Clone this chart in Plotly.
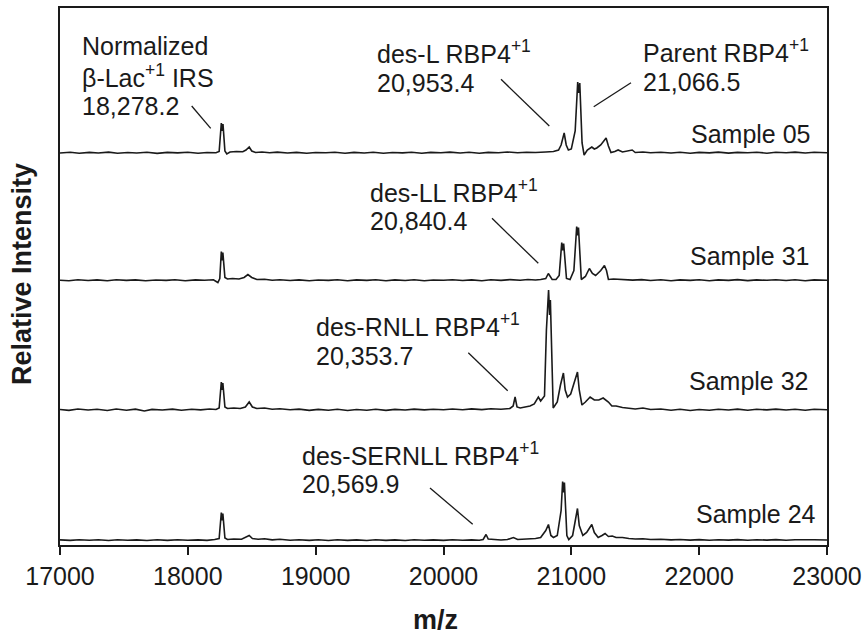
import plotly.graph_objects as go

# ---------------- data (m/z, relative intensity above each baseline) ----------------
sample_names = ["Sample 05", "Sample 31", "Sample 32", "Sample 24"]
stack_offsets = [387.5, 260.0, 130.5, 0.0]

sample05 = [
    (17000, 0), (17080, 0.8), (17150, -0.3), (17230, 0.6), (17300, 0), (17380, 0.9), (17450, -0.2),
    (17530, 0.5), (17600, 0), (17680, 0.7), (17760, -0.4), (17840, 0.6), (17920, 0.1), (18000, 0.8),
    (18080, -0.2), (18150, 0.5), (18220, 0.3), (18245, 1.5), (18262, 30), (18268, 22), (18275, 29),
    (18290, 2), (18305, -1), (18330, 1), (18380, 1.5), (18430, 1.2), (18455, 3), (18480, 6), (18500, 2),
    (18530, 0.5), (18580, 1), (18640, 0.2), (18700, 0.9), (18780, 0), (18850, 0.6), (18930, -0.3),
    (19000, 0.5), (19080, 0.2), (19150, 0.8), (19230, -0.2), (19300, 0.6), (19380, 0), (19450, 0.7),
    (19530, -0.3), (19600, 0.5), (19680, 0.1), (19750, 0.8), (19830, -0.2), (19900, 0.6), (19980, 0.2),
    (20050, 0.9), (20130, 0), (20200, 0.7), (20280, -0.2), (20350, 0.6), (20430, 0.3), (20500, 1),
    (20580, 0.2), (20650, 0.8), (20720, 0.5), (20800, 1), (20860, 1.5), (20900, 3), (20920, 8),
    (20944, 20), (20960, 8), (20977, 3), (21000, 4), (21030, 22), (21050, 71), (21058, 60), (21066, 70),
    (21084, 10), (21100, -2), (21125, 3), (21145, 5), (21160, 6), (21180, 4), (21199, 5), (21230, 8),
    (21272, 15), (21290, 7), (21310, 0.5), (21340, 1.5), (21366, 3), (21400, 1), (21440, 2), (21476, 3),
    (21500, 0.5), (21560, 1), (21620, 0.2), (21700, 0.8), (21780, 0), (21850, 0.7), (21930, -0.2),
    (22000, 0.6), (22080, 0.1), (22150, 0.9), (22230, -0.1), (22300, 0.6), (22380, 0.3), (22450, 0.8),
    (22530, -0.2), (22600, 0.7), (22680, 0.2), (22750, 0.9), (22830, 0), (22900, 0.7), (23000, 0.3),
]

sample31 = [
    (17000, 0.2), (17070, -0.3), (17140, 0.7), (17220, 0), (17290, 0.6), (17370, -0.2), (17440, 0.8),
    (17520, 0.1), (17590, 0.6), (17670, -0.3), (17750, 0.5), (17830, 0.1), (17900, 0.8), (17980, -0.2),
    (18060, 0.6), (18130, 0.2), (18200, 0.7), (18235, -2), (18250, 2), (18262, 29), (18268, 20),
    (18274, 28), (18290, 3), (18310, 1.5), (18350, 2), (18400, 1.5), (18440, 3), (18470, 6), (18500, 3),
    (18540, 1), (18600, 1.2), (18660, 0.3), (18720, 0.8), (18800, 0), (18870, 0.6), (18950, -0.3),
    (19020, 0.5), (19100, 0.1), (19170, 0.8), (19250, -0.2), (19320, 0.6), (19400, 0.1), (19470, 0.7),
    (19550, -0.3), (19620, 0.6), (19700, 0), (19770, 0.8), (19850, -0.2), (19920, 0.5), (20000, 0.2),
    (20070, 0.8), (20150, 0), (20220, 0.6), (20300, -0.2), (20370, 0.7), (20450, 0.1), (20520, 0.9),
    (20600, 0.3), (20660, 1), (20720, 0.5), (20760, 1), (20800, 2), (20820, 7), (20850, 1), (20880, 1),
    (20905, 5), (20925, 38), (20932, 30), (20940, 37), (20962, 2), (20990, 1), (21020, 10), (21042, 54),
    (21050, 45), (21056, 53), (21078, 1), (21110, 4), (21141, 12), (21165, 7), (21190, 5), (21230, 10),
    (21259, 15), (21275, 10), (21290, 1), (21330, 1.5), (21380, 1), (21420, 1.2), (21480, 0.4),
    (21550, 0.9), (21620, 0), (21700, 0.7), (21780, -0.2), (21850, 0.6), (21930, 0.1), (22000, 0.8),
    (22080, -0.2), (22150, 0.6), (22230, 0.1), (22300, 0.9), (22380, -0.1), (22450, 0.6), (22530, 0.2),
    (22600, 0.8), (22680, 0), (22750, 0.7), (22830, -0.2), (22900, 0.6), (23000, 0.2),
]

sample32 = [
    (17000, 0.5), (17070, -0.4), (17140, 1), (17220, 0), (17290, 0.8), (17370, -0.5), (17440, 1),
    (17520, -0.2), (17590, 0.9), (17660, -1), (17720, 0.6), (17800, 0), (17880, 0.9), (17950, -0.3),
    (18030, 0.8), (18100, 0.1), (18170, 1), (18220, 0.5), (18245, 2), (18262, 28), (18268, 20),
    (18274, 27), (18290, 3), (18310, 1.5), (18360, 2), (18410, 1.5), (18450, 3), (18480, 8), (18505, 3),
    (18540, 1.5), (18600, 2), (18660, 0.8), (18720, 1.2), (18800, 0.3), (18870, 0.9), (18950, -0.4),
    (19020, 0.6), (19100, -0.3), (19170, 0.8), (19250, -0.5), (19320, 0.5), (19400, -0.2), (19470, 0.7),
    (19550, -0.4), (19620, 0.6), (19700, 0), (19770, 0.9), (19850, 0.1), (19920, 0.8), (20000, 0.2),
    (20070, 1), (20150, 0.3), (20220, 1.1), (20300, 0.4), (20370, 1.2), (20450, 0.8), (20520, 1.5),
    (20545, 4), (20560, 13), (20575, 3), (20600, 2), (20650, 3), (20677, 4), (20710, 6), (20742, 13),
    (20760, 9), (20790, 14), (20805, 80), (20822, 120), (20830, 95), (20836, 110), (20858, 2),
    (20890, 8), (20915, 25), (20938, 37), (20952, 20), (20970, 13), (20995, 16), (21030, 30),
    (21048, 38), (21062, 20), (21083, 5), (21110, 8), (21147, 13), (21180, 10), (21215, 10), (21249, 12),
    (21290, 8), (21317, 4), (21350, 4), (21400, 2.5), (21450, 1.5), (21500, 1), (21560, 2), (21620, 0.5),
    (21700, 1), (21780, -0.3), (21850, 0.8), (21930, -0.5), (22000, 0.5), (22080, -0.3), (22150, 0.8),
    (22230, 0), (22300, 0.9), (22380, -0.2), (22450, 0.7), (22530, 0.1), (22600, 0.9), (22680, 0),
    (22750, 0.8), (22830, -0.2), (22900, 0.7), (23000, 0.3),
]

sample24 = [
    (17000, 0.6), (17080, 0.1), (17150, 0.8), (17230, 0.2), (17300, 0.7), (17380, 0), (17450, 0.8),
    (17530, 0.2), (17600, 0.6), (17680, 0), (17760, 0.7), (17840, 0.1), (17920, 0.8), (18000, 0.2),
    (18080, 0.6), (18150, 0.1), (18210, 1), (18245, 2), (18262, 28), (18268, 20), (18274, 27),
    (18290, 2.5), (18310, 1), (18360, 1.5), (18420, 1.2), (18455, 3), (18480, 5), (18505, 2), (18550, 1.2),
    (18600, 1.8), (18660, 0.6), (18720, 1.2), (18800, 0.3), (18870, 0.8), (18950, 0.1), (19020, 0.7),
    (19100, 0), (19170, 0.7), (19250, 0.1), (19320, 0.6), (19400, 0), (19470, 0.7), (19550, 0.1),
    (19620, 0.6), (19700, 0), (19770, 0.7), (19850, 0.2), (19920, 0.6), (20000, 0.1), (20070, 0.7),
    (20150, 0.2), (20220, 0.6), (20280, 0.3), (20310, 1), (20333, 6), (20350, 1.5), (20400, 1),
    (20450, 0.5), (20500, 1), (20547, 3), (20580, 1), (20650, 1.2), (20720, 2), (20760, 3), (20800, 10),
    (20821, 16), (20840, 5), (20860, 3), (20890, 5), (20920, 30), (20932, 59), (20940, 48), (20946, 58),
    (20965, 5), (20980, 1), (21010, 5), (21035, 25), (21048, 32), (21062, 15), (21090, 5), (21120, 8),
    (21160, 16), (21180, 8), (21210, 3), (21240, 5), (21264, 7), (21290, 4), (21320, 4.5), (21350, 3),
    (21400, 3), (21450, 2), (21500, 1.5), (21560, 1.8), (21620, 1), (21700, 1.2), (21780, 0.6),
    (21850, 1), (21930, 0.4), (22000, 0.9), (22080, 0.3), (22150, 0.8), (22230, 0.4), (22300, 0.9),
    (22380, 0.3), (22450, 0.8), (22530, 0.4), (22600, 0.9), (22680, 0.3), (22750, 0.8), (22830, 0.4),
    (22900, 0.8), (23000, 0.5),
]

spectra = [sample05, sample31, sample32, sample24]
x_ticks = [17000, 18000, 19000, 20000, 21000, 22000, 23000]

# ---------------- layout geometry ----------------
W, H = 862, 634
ML, MR, MT, MB = 60, 35, 8, 89
PW, PH = W - ML - MR, H - MT - MB
FONT = "Arial, Liberation Sans, sans-serif"
INK = "#1a1a1a"
ANN_SIZE = 25


def px_x(px):
    return (px - ML) / PW


def px_y(py):
    return (H - MB - py) / PH


fig = go.Figure()
for name, spec, off in zip(sample_names, spectra, stack_offsets):
    fig.add_trace(go.Scatter(
        x=[p[0] for p in spec], y=[p[1] + off for p in spec],
        mode="lines", name=name, line=dict(color=INK, width=1.6),
        showlegend=False, hoverinfo="skip",
    ))

annotations = []


def label(text, px, baseline, anchor="left", size=ANN_SIZE, bold=False, sup=False):
    center = baseline - 0.35 * size - (2 if sup else 0)
    annotations.append(dict(
        text=text, x=px_x(px), y=px_y(center), xref="paper", yref="paper",
        xanchor=anchor, yanchor="middle", showarrow=False,
        font=dict(family=FONT, size=size, color=INK, weight="bold" if bold else "normal"),
    ))


label("Normalized", 80, 55)
label("β-Lac<sup>+1</sup> IRS", 80, 87, sup=True)
label("18,278.2", 80, 115)
label("des-L RBP4<sup>+1</sup>", 375, 63, sup=True)
label("20,953.4", 375, 92)
label("Parent RBP4<sup>+1</sup>", 641, 62, sup=True)
label("21,066.5", 641, 91)
label("Sample 05", 813, 143, anchor="right")
label("des-LL RBP4<sup>+1</sup>", 368, 202, sup=True)
label("20,840.4", 368, 230)
label("Sample 31", 812, 265, anchor="right")
label("des-RNLL RBP4<sup>+1</sup>", 314, 336, sup=True)
label("20,353.7", 314, 365)
label("Sample 32", 811, 390, anchor="right")
label("des-SERNLL RBP4<sup>+1</sup>", 300, 465, sup=True)
label("20,569.9", 300, 493)
label("Sample 24", 818, 523, anchor="right")

# axis titles
annotations.append(dict(
    text="m/z", x=px_x(435), y=px_y(620), xref="paper", yref="paper",
    xanchor="center", yanchor="middle", showarrow=False,
    font=dict(family=FONT, size=27, color=INK, weight="bold"),
))
annotations.append(dict(
    text="Relative Intensity", x=px_x(22), y=px_y(274), xref="paper", yref="paper",
    xanchor="center", yanchor="middle", showarrow=False, textangle=-90,
    font=dict(family=FONT, size=27, color=INK, weight="bold"),
))

leaders = [
    ((191.7, 106), (210.7, 128.3)),
    ((501, 79.3), (549.3, 126)),
    ((631, 82.7), (593.7, 106.7)),
    ((492, 218.3), (538.3, 263.3)),
    ((468.3, 352.7), (507.7, 390.7)),
    ((430, 488), (472.7, 524.3)),
]
shapes = [
    dict(type="line", xref="paper", yref="paper",
         x0=px_x(a[0]), y0=px_y(a[1]), x1=px_x(b[0]), y1=px_y(b[1]),
         line=dict(color=INK, width=1.3))
    for a, b in leaders
]

fig.update_layout(
    width=W, height=H,
    margin=dict(l=ML, r=MR, t=MT, b=MB, autoexpand=False),
    paper_bgcolor="white", plot_bgcolor="white",
    font=dict(family=FONT, color=INK),
    annotations=annotations, shapes=shapes,
    xaxis=dict(
        range=[17000, 23000], tickvals=x_ticks, ticktext=[str(v) for v in x_ticks],
        ticks="outside", ticklen=8, tickwidth=1.5, tickcolor=INK,
        showline=True, linecolor=INK, linewidth=1.5, mirror=True,
        showgrid=False, zeroline=False, automargin=False,
        tickfont=dict(family=FONT, size=25, color=INK),
    ),
    yaxis=dict(
        range=[-4.5, 532.5], showticklabels=False, ticks="",
        showline=True, linecolor=INK, linewidth=1.5, mirror=True,
        showgrid=False, zeroline=False, automargin=False,
    ),
)

fig.write_html(
    "out.html",
    config={"displayModeBar": False},
    post_script="document.body.style.margin='0';document.body.style.overflow='hidden';",
)
